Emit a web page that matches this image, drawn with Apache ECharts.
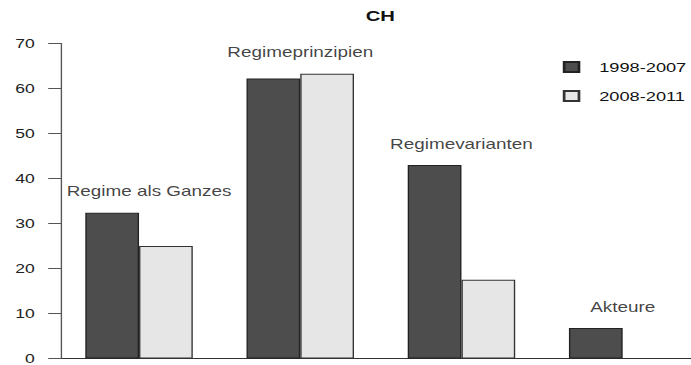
<!DOCTYPE html>
<html>
<head>
<meta charset="utf-8">
<script src="https://cdn.jsdelivr.net/npm/echarts@6/dist/echarts.min.js"></script>
<style>
  html, body { margin: 0; padding: 0; background: #fff; overflow: hidden; }
  /* chart laid out narrow, then widened; the baseline runs past the right edge */
  #chart { width: 525px; height: 365px; transform: scaleX(1.3496); transform-origin: 0 0; }
</style>
</head>
<body>
<div id="chart"></div>
<script>
const categories = ['Regime als Ganzes', 'Regimeprinzipien', 'Regimevarianten', 'Akteure'];
const period1 = [32.4, 62.2, 43.0, 6.8];
const period2 = [25.0, 63.3, 17.5, 0];
const seriesNames = ['1998-2007', '2008-2011'];
const yTicks = { min: 0, max: 70, interval: 10 };

const font = 'Liberation Sans, Arial, Helvetica, sans-serif';
const groupTop = categories.map((_, i) => Math.max(period1[i], period2[i]));

const chart = echarts.init(document.getElementById('chart'), null, { renderer: 'svg' });
chart.setOption({
  animation: false,
  backgroundColor: '#ffffff',
  title: {
    text: 'CH',
    left: 271,
    top: 8,
    padding: 0,
    textStyle: { fontFamily: font, fontSize: 15, fontWeight: 'bold', color: '#111' }
  },
  legend: {
    data: seriesNames,
    orient: 'vertical',
    left: 417,
    top: 60,
    padding: 0,
    icon: 'rect',
    itemWidth: 11,
    itemHeight: 10,
    itemGap: 15,
    textStyle: { fontFamily: font, fontSize: 13.5, color: '#111', padding: [0, 0, 0, 10] }
  },
  grid: { left: 43.3, right: 3.9, top: 43.5, bottom: 5, containLabel: false },
  xAxis: {
    type: 'category',
    data: categories,
    axisLine: { show: true, lineStyle: { color: '#333', width: 1 } },
    axisTick: { show: false },
    axisLabel: { show: false },
    splitLine: { show: false }
  },
  yAxis: {
    type: 'value',
    min: yTicks.min,
    max: yTicks.max,
    interval: yTicks.interval,
    offset: -2.4,
    axisLine: { show: true, lineStyle: { color: '#555', width: 1 } },
    axisTick: { show: true, length: 10, lineStyle: { color: '#555', width: 1 } },
    axisLabel: { margin: 20, fontFamily: font, fontSize: 13, color: '#222' },
    splitLine: { show: false }
  },
  series: [
    {
      name: seriesNames[0],
      type: 'bar',
      data: period1,
      barGap: '0%',
      barCategoryGap: '33.33%',
      itemStyle: { color: '#4d4d4d', borderColor: '#222', borderWidth: 1 }
    },
    {
      name: seriesNames[1],
      type: 'bar',
      data: period2,
      barGap: '0%',
      barCategoryGap: '33.33%',
      itemStyle: { color: '#e6e6e6', borderColor: '#333', borderWidth: 1 }
    },
    {
      name: 'Gruppen',
      type: 'scatter',
      symbolSize: 0,
      silent: true,
      data: groupTop.map((v, i) => ({
        value: v,
        label: i === 0 ? { offset: [7.4, 0] } : {}
      })),
      label: {
        show: true,
        position: 'top',
        distance: 14,
        formatter: p => categories[p.dataIndex],
        fontFamily: font,
        fontSize: 14,
        color: '#111'
      }
    }
  ]
});
</script>
</body>
</html>
